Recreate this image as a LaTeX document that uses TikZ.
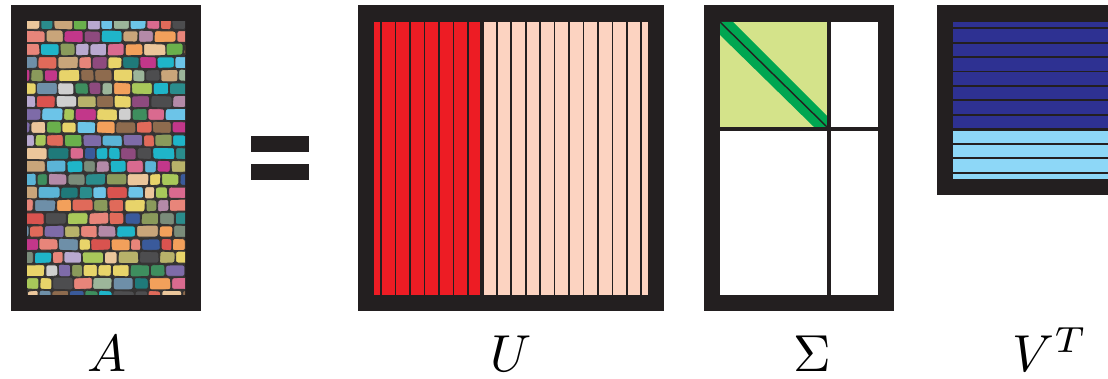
\documentclass[tikz,border=0pt]{standalone}
\usepackage{graphicx}
\usepackage{tikz}
\definecolor{frame}{HTML}{231F20}
\definecolor{grout}{HTML}{353333}
\definecolor{ured}{HTML}{ED1C24}
\definecolor{upink}{HTML}{FCD3C1}
\definecolor{sgreen}{HTML}{D4E38A}
\definecolor{sdgreen}{HTML}{00A651}
\definecolor{vdark}{HTML}{2E3192}
\definecolor{vlight}{HTML}{8DD7F7}
\definecolor{tile1}{HTML}{2A8C8C}
\definecolor{tile2}{HTML}{8A9A5B}
\definecolor{tile3}{HTML}{D96A8F}
\definecolor{tile4}{HTML}{7E6BA8}
\definecolor{tile5}{HTML}{5BB4D6}
\definecolor{tile6}{HTML}{F2A05B}
\definecolor{tile7}{HTML}{B48AA8}
\definecolor{tile8}{HTML}{9CB59A}
\definecolor{tile9}{HTML}{4D4D4F}
\definecolor{tile10}{HTML}{E8D46A}
\definecolor{tile11}{HTML}{6AB04C}
\definecolor{tile12}{HTML}{D9534F}
\definecolor{tile13}{HTML}{3A5A9B}
\definecolor{tile14}{HTML}{C9A57A}
\definecolor{tile15}{HTML}{1FB5C9}
\definecolor{tile16}{HTML}{B9A9D0}
\definecolor{tile17}{HTML}{8E6B4E}
\definecolor{tile18}{HTML}{C2378A}
\definecolor{tile19}{HTML}{CFCFCF}
\definecolor{tile20}{HTML}{3E8E5E}
\definecolor{tile21}{HTML}{E8857A}
\definecolor{tile22}{HTML}{6E8FA8}
\definecolor{tile23}{HTML}{B8B26A}
\definecolor{tile24}{HTML}{8E4A7E}
\definecolor{tile25}{HTML}{6CC4E8}
\definecolor{tile26}{HTML}{7A8C7A}
\definecolor{tile27}{HTML}{E06A5A}
\definecolor{tile28}{HTML}{1F7A7A}
\definecolor{tile29}{HTML}{A8C85A}
\definecolor{tile30}{HTML}{EBC69B}
\tikzset{
  sep/.style={draw=frame, line width=1.6pt},
  tilestyle/.style={draw=grout, line width=0.9pt, rounded corners=2.2pt},
  lbl/.style={anchor=base, inner sep=0pt}
}
\newcommand{\biglbl}[1]{\scalebox{5.2}{$#1$}}
\begin{document}
\begin{tikzpicture}[x=1pt,y=-1pt]
\useasboundingbox (0,0) rectangle (1108,379);
% ---------- A ----------
\fill[frame] (11,5) rectangle (201,311);
\begin{scope}
  \clip (27,22) rectangle (185,295);
  \fill[grout] (27,22) rectangle (185,295);
  \pgfmathsetseed{11}
  \foreach \r in {0,...,21} {
    \pgfmathsetmacro\yt{22+\r*13-5}
    \pgfmathsetmacro\off{-rnd*14}
    \xdef\xs{0}
    \foreach \c in {1,...,14} {
      \pgfmathsetmacro\w{11+rnd*12}
      \pgfmathsetmacro\xe{\xs+\w}
      \pgfmathrandominteger\k{1}{30}
      \edef\tc{tile\k}
      \pgfmathsetmacro\xa{27+\off+\xs+rnd*0.9}
      \pgfmathsetmacro\xb{27+\off+\xe-rnd*0.9}
      \pgfmathsetmacro\xc{27+\off+\xe-rnd*0.9}
      \pgfmathsetmacro\xd{27+\off+\xs+rnd*0.9}
      \pgfmathsetmacro\ya{\yt+rnd*1.2}
      \pgfmathsetmacro\yb{\yt+rnd*1.2}
      \pgfmathsetmacro\yc{\yt+13-rnd*1.2}
      \pgfmathsetmacro\yd{\yt+13-rnd*1.2}
      \filldraw[tilestyle, fill=\tc]
        (\xa,\ya) -- (\xb,\yb) -- (\xc,\yc) -- (\xd,\yd) -- cycle;
      \xdef\xs{\xe}
    }
  }
\end{scope}
% ---------- = ----------
\fill[frame] (251,136) rectangle (309,152);
\fill[frame] (251,164) rectangle (309,180.5);
% ---------- U ----------
\fill[frame] (358,5) rectangle (664,311);
\fill[ured] (374,22) rectangle (480,295);
\fill[upink] (484,22) rectangle (648,295);
\foreach \x in {380.7,395.3,410,424.3,438.7,453.3,467.7,
               496.7,511,525.7,540,554.3,569,583.3,597.7,612.3,626.7,641}
  \draw[sep] (\x,22) -- (\x,295);
% ---------- Sigma ----------
\fill[frame] (704,5) rectangle (894,311);
\fill[white] (720,22) rectangle (878,295);
\fill[sgreen] (720,22) rectangle (827,127);
\begin{scope}
  \clip (720,22) rectangle (827,127);
  \fill[sdgreen] (720,22) -- (733,22) -- (827,116) -- (827,127) -- (814,127) -- (720,35) -- cycle;
  \draw[frame, line width=1.4pt] (720,22) -- (827,127);
\end{scope}
\fill[frame] (827,22) rectangle (831,295);
\fill[frame] (720,127) rectangle (878,131);
% ---------- V^T ----------
\fill[frame] (937,5) rectangle (1108,195);
\fill[vdark] (953,22) rectangle (1108,127.7);
\fill[vlight] (953,131.3) rectangle (1108,179);
\foreach \y in {28.3,43,57.3,71.7,86,100.3,115,144,158.3,173}
  \draw[sep] (953,\y) -- (1108,\y);
% ---------- labels ----------
\node[lbl] (lA) at (107,371) {\biglbl{A}};
\node[lbl] (lU) at (511,371) {\biglbl{U}};
\node[lbl] (lS) at (812,371) {\biglbl{\Sigma}};
\node[lbl] (lV) at (1050,371) {\biglbl{V^T}};
\end{tikzpicture}
\end{document}
